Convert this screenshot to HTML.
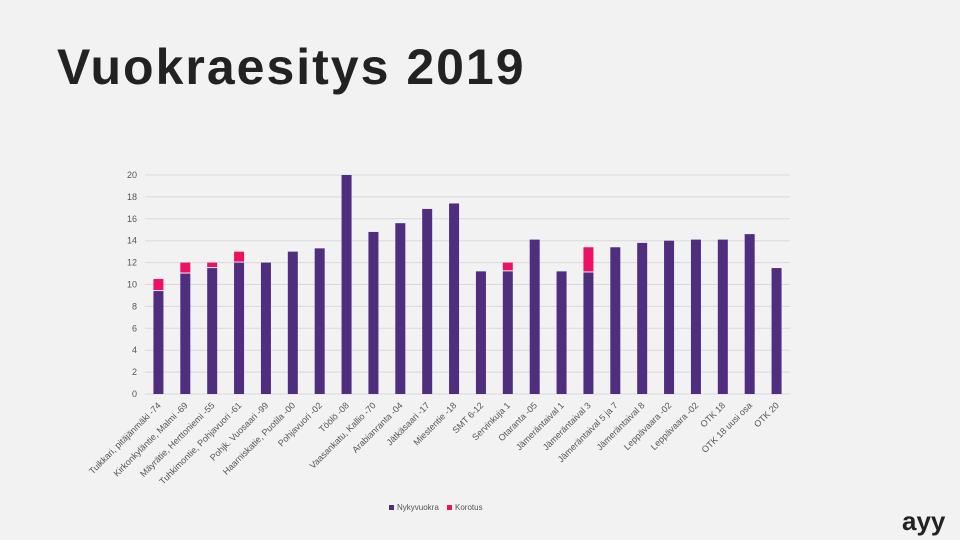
<!DOCTYPE html>
<html><head><meta charset="utf-8"><style>
body{margin:0;background:#f2f2f2;width:960px;height:540px;overflow:hidden;font-family:"Liberation Sans",sans-serif}
#title{position:absolute;left:57px;top:38px;font-size:50px;font-weight:bold;color:#222;letter-spacing:2px}
#logo{position:absolute;left:902px;top:506px;font-size:26px;font-weight:bold;color:#222}
svg{position:absolute;left:0;top:0}
</style></head><body>
<div id="title">Vuokraesitys 2019</div>
<div id="logo">ayy</div>
<svg id="c" width="960" height="540"></svg>
<script>
const categories=["Tuikkari, pitäjänmäki -74","Kirkonkyläntie, Malmi -69","Mäyrätie, Herttoniemi -55","Tuhkimontie, Pohjavuori -61","Pohjk. Vuosaari -99","Haarniskatie, Puotila -00","Pohjavuori -02","Töölö -08","Vaasankatu, Kallio -70","Arabianranta -04","Jätkäsaari -17","Miestentie -18","SMT 6-12","Servinkuja 1","Otaranta -05","Jämeräntaival 1","Jämeräntaival 3","Jämeräntaival 5 ja 7","Jämeräntaival 8","Leppävaara -02","Leppävaara -02","OTK 18","OTK 18 uusi osa","OTK 20"];
const current=[9.4,11.0,11.5,12.0,12.0,13.0,13.3,20.0,14.8,15.6,16.9,17.4,11.2,11.2,14.1,11.2,11.1,13.4,13.8,14.0,14.1,14.1,14.6,11.5];
const increase=[1.1,1.0,0.5,1.0,0,0,0,0,0,0,0,0,0,0.8,0,0,2.3,0,0,0,0,0,0,0];
const yTicks=[0,2,4,6,8,10,12,14,16,18,20];
const NS="http://www.w3.org/2000/svg",svg=document.getElementById('c');
const x0=145,x1=790,y0=394,y1=175;
const y=v=>y0-(v/20)*(y0-y1);
const step=(x1-x0)/categories.length;
const xc=i=>x0+step*(i+0.5);
function mk(t,a){const e=document.createElementNS(NS,t);for(const k in a)e.setAttribute(k,a[k]);svg.appendChild(e);return e;}
yTicks.forEach(t=>{
 const g=mk('line',{x1:x0,x2:x1,y1:y(t),y2:y(t),stroke:'#d9d9d9','stroke-width':1});
 
 
 const l=mk('text',{x:x0-8,y:y(t)+3,'text-anchor':'end','font-size':9,fill:'#555'});
 l.textContent=t;
 
 
});
categories.forEach((c,i)=>{
 const bw=10,cx=xc(i);
 const b=mk('rect',{x:cx-bw/2,y:y(current[i]),width:bw,height:y(0)-y(current[i]),fill:'#4f2d7f'});
 
 
 if(increase[i]>0){
  const r=mk('rect',{x:cx-bw/2,y:y(current[i]+increase[i]),width:bw,height:y(current[i])-y(current[i]+increase[i])-1,fill:'#ee1163'});
  
  
 }
 const t=mk('text',{x:cx+3,y:y0+12,'text-anchor':'end','font-size':9,fill:'#555',transform:`rotate(-45 ${cx+3} ${y0+12})`});
 t.textContent=c;
 
 
});
const l1=mk('rect',{x:389,y:505,width:5,height:5,fill:'#4f2d7f'});


const t1=mk('text',{x:397,y:510,'font-size':8,fill:'#555'});t1.textContent='Nykyvuokra';


const l2=mk('rect',{x:447,y:505,width:5,height:5,fill:'#ee1163'});


const t2=mk('text',{x:455,y:510,'font-size':8,fill:'#555'});t2.textContent='Korotus';


</script>
</body></html>
